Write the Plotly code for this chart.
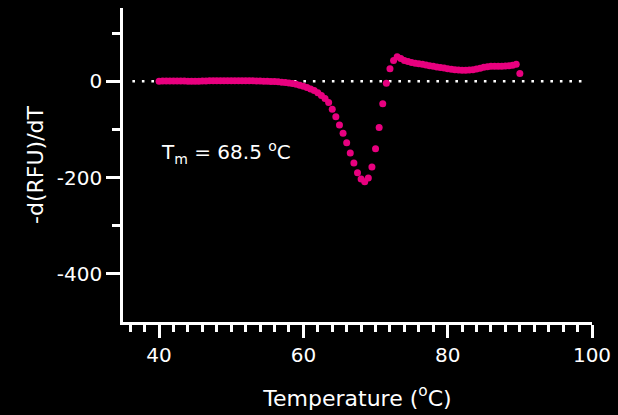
import plotly.graph_objects as go

# Melt curve derivative, sampled every 0.5 °C
temperature = [40.0 + 0.5 * i for i in range(101)]
neg_dfdt = [
    0.0, 0.2, 0.4, 0.5, 0.6, 0.6, 0.5, 0.3, 0.1, -0.1,          # 40.0 - 44.5
    -0.2, -0.1, 0.2, 0.5, 0.8, 1.0, 1.1, 1.1, 1.0, 0.9,         # 45.0 - 49.5
    0.8, 0.8, 0.9, 1.0, 1.0, 0.9, 0.7, 0.5, 0.3, 0.1,           # 50.0 - 54.5
    -0.1, -0.4, -0.8, -1.3, -2.0, -2.8, -3.8, -5.0, -6.5, -8.3, # 55.0 - 59.5
    -10.5, -13.0, -16.0, -19.5, -24.0, -29.5, -36.0, -44.0, -58.0, -74.0,  # 60.0 - 64.5
    -91.0, -108.0, -128.0, -149.0, -170.0, -190.0, -203.0, -209.0, -201.0, -178.0,  # 65.0 - 69.5
    -140.0, -96.0, -47.0, -4.0, 26.0, 43.0, 51.0, 47.0, 43.0, 41.0,  # 70.0 - 74.5
    39.0, 37.5, 36.0, 35.0, 33.5, 32.0, 31.0, 29.5, 28.5, 27.5,  # 75.0 - 79.5
    26.0, 25.0, 24.0, 23.5, 23.0, 23.0, 23.5, 24.0, 25.5, 27.0,  # 80.0 - 84.5
    29.0, 30.0, 31.0, 31.0, 31.0, 31.0, 31.5, 32.0, 33.0, 35.0,  # 85.0 - 89.5
    16.0,                                                        # 90.0
]

x_major = [40, 60, 80, 100]
y_major = [-400, -200, 0]
y_minor = [-300, -100, 100]
baseline = 0
baseline_span = [36.3, 99.0]
tm_label = "T<sub>m</sub> = 68.5 <sup>o</sup>C"

PINK = "#E8007F"
WHITE = "#FFFFFF"
TEXT_FONT = dict(family="DejaVu Sans", size=20, color=WHITE)
TITLE_FONT = dict(family="DejaVu Sans", size=22, color=WHITE)

fig = go.Figure()

fig.add_trace(go.Scatter(
    x=temperature, y=neg_dfdt, mode="markers",
    marker=dict(size=7, color=PINK, line=dict(width=0)),
    showlegend=False, hoverinfo="x+y",
))

# dotted zero reference line
fig.add_shape(
    type="line", xref="x", yref="y",
    x0=baseline_span[0], x1=baseline_span[1], y0=baseline, y1=baseline,
    line=dict(color=WHITE, width=2.6, dash="2.6px,6.9px"),
    layer="below",
)

fig.add_annotation(
    x=40.0, y=-148, xref="x", yref="y", text=tm_label, showarrow=False,
    xanchor="left", yanchor="middle", font=TEXT_FONT,
)

fig.update_layout(
    width=618, height=415,
    margin=dict(l=123, r=26, t=8, b=93, autoexpand=False),
    paper_bgcolor="black", plot_bgcolor="black",
    font=TEXT_FONT,
    xaxis=dict(
        range=[35, 100], showgrid=False, zeroline=False,
        showline=True, linecolor=WHITE, linewidth=2.6,
        ticks="outside", ticklen=13, tickwidth=2.6, tickcolor=WHITE,
        tickvals=x_major, ticktext=[str(v) for v in x_major],
        tickfont=TEXT_FONT,
        minor=dict(tick0=36, dtick=2, ticks="outside", ticklen=7,
                   tickwidth=2.6, tickcolor=WHITE),
        title=dict(text="Temperature (<sup>o</sup>C)", standoff=25,
                   font=TITLE_FONT),
        automargin=False,
    ),
    yaxis=dict(
        range=[-500, 152], showgrid=False, zeroline=False,
        showline=True, linecolor=WHITE, linewidth=2.6,
        ticks="outside", ticklen=14, tickwidth=2.6, tickcolor=WHITE,
        tickvals=y_major, ticktext=[str(v) for v in y_major],
        tickfont=TEXT_FONT,
        minor=dict(tickvals=y_minor, ticks="outside", ticklen=8,
                   tickwidth=2.6, tickcolor=WHITE),
        title=dict(text="-d(RFU)/dT", standoff=8, font=TITLE_FONT),
        automargin=False,
    ),
)

fig.write_html("out.html")
